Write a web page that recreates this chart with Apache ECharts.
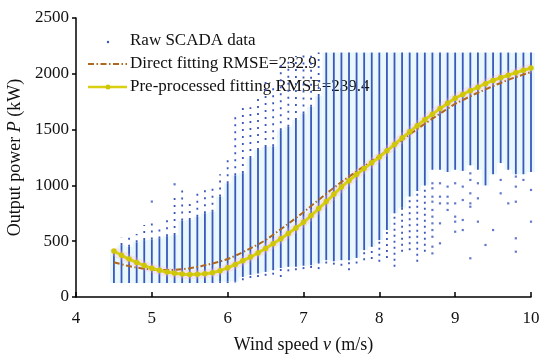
<!DOCTYPE html>
<html>
<head>
<meta charset="utf-8">
<script src="https://cdn.jsdelivr.net/npm/echarts@6/dist/echarts.min.js"></script>
<style>html,body{margin:0;padding:0;background:#fff}#c{width:550px;height:359px}</style>
</head>
<body>
<div id="c"></div>
<script>
// ---- data ----
const windSpeed = [4.5,4.6,4.7,4.8,4.9,5.0,5.1,5.2,5.3,5.4,5.5,5.6,5.7,5.8,5.9,6.0,6.1,6.2,6.3,6.4,6.5,6.6,6.7,6.8,6.9,7.0,7.1,7.2,7.3,7.4,7.5,7.6,7.7,7.8,7.9,8.0,8.1,8.2,8.3,8.4,8.5,8.6,8.7,8.8,8.9,9.0,9.1,9.2,9.3,9.4,9.5,9.6,9.7,9.8,9.9,10.0];
// lowest sparse point of each SCADA column (kW)
const sparseLow = [125,125,125,125,125,125,125,125,125,125,125,125,125,125,125,125,130,150,170,180,190,200,180,230,240,250,260,250,300,290,280,240,300,330,340,315,350,270,405,420,315,405,1140,1140,1120,1140,1130,1180,1140,1000,1100,1200,1140,1100,1100,1120];
// dense part of each column (kW)
const denseLow = [125,125,125,125,125,125,125,125,125,125,125,125,125,125,137,137,140,180,198,210,225,240,260,270,270,280,285,300,330,320,330,330,350,420,450,510,600,750,800,900,950,1000,1140,1140,1120,1140,1130,1180,1140,1000,1100,1200,1140,1100,1100,1120];
const denseHigh = [430,465,450,490,510,515,525,545,555,685,690,720,750,765,900,1020,1090,1110,1245,1317,1345,1350,1495,1525,1585,1645,1705,1800,2190,2190,2190,2190,2190,2190,2190,2190,2190,2190,2190,2190,2190,2190,2190,2190,2190,2190,2190,2190,2190,2190,2190,2190,2190,2190,2190,2190];
// highest sparse point of each column (kW)
const sparseHigh = [430,530,570,565,645,670,635,690,900,960,840,930,1000,1000,1100,1250,1650,1700,1700,1790,1960,1900,2105,2120,2160,2190,2180,2190,2190,2190,2190,2190,2190,2190,2190,2190,2190,2190,2190,2190,2190,2190,2190,2190,2190,2190,2190,2190,2190,2190,2190,2190,2190,2190,2190,2190];
// isolated SCADA points [wind speed, power]
const outliers = [[5.0,855],[5.3,1010],
 [8.7,1019],[8.7,974],[8.7,899],[8.7,854],[8.7,780],[8.7,720],[8.7,660],[8.7,600],[8.7,540],[8.7,451],[8.7,391],
 [8.8,1019],[8.8,899],[8.8,839],[8.8,660],[8.8,481],
 [8.9,989],[8.9,899],[8.9,839],[8.9,780],
 [9.0,1019],[9.0,839],[9.0,720],[9.0,675],[9.0,585],
 [9.1,989],[9.1,869],[9.1,690],[9.1,600],
 [9.2,1108],[9.2,1049],[9.2,929],[9.2,839],[9.2,809],[9.2,347],
 [9.3,1019],[9.3,884],[9.3,675],
 [9.4,466],[9.5,600],[9.6,1049],[9.6,929],[9.7,839],
 [9.8,1079],[9.8,989],[9.8,854],[9.8,526],[9.8,406],
 [9.9,1049],[10.0,959],[10.0,675]];
// fitted curves (kW) at windSpeed
const directFit = [311,293,277,264,254,247,243,241,243,249,258,270,285,300,319,340,370,402,436,472,510,558,607,657,708,760,815,870,925,978,1030,1078,1125,1172,1218,1262,1312,1360,1408,1457,1505,1552,1598,1643,1687,1730,1765,1798,1830,1860,1890,1918,1945,1970,1993,2015];
const preFit = [412,374,340,310,282,258,239,224,213,205,202,203,208,218,236,262,292,324,358,395,435,478,523,570,619,670,730,792,855,920,985,1042,1097,1151,1203,1254,1310,1367,1424,1480,1535,1588,1638,1688,1735,1780,1815,1849,1880,1911,1940,1964,1987,2010,2031,2052];
const xTicks = {min:4, max:10, interval:1};
const yTicks = {min:0, max:2500, interval:500};
const legendNames = ['Raw SCADA data','Direct fitting RMSE=232.9','Pre-processed fitting RMSE=239.4'];

// ---- chart ----
const BLUE = '#3a57bb', BROWN = '#b0681f', YELLOW = '#d8d010';
const FONT = 'Liberation Serif';
const cols = windSpeed.map((w,i)=>[w, sparseLow[i], denseLow[i], denseHigh[i], sparseHigh[i]]);
const pair = arr => windSpeed.map((w,i)=>[w, arr[i]]);

const chart = echarts.init(document.getElementById('c'), null, {renderer:'canvas'});
chart.setOption({
  animation:false,
  grid:{left:76, right:19, top:18, bottom:62, outerBoundsMode:'none'},
  xAxis:{type:'value', min:xTicks.min, max:xTicks.max, interval:xTicks.interval,
    axisLine:{lineStyle:{color:'#000', width:1.5}},
    axisTick:{inside:true, length:5, lineStyle:{color:'#000', width:1.5}},
    splitLine:{show:false},
    axisLabel:{color:'#111', fontFamily:FONT, fontSize:17, margin:13},
    name:'{n|Wind speed }{i|v}{n| (m/s)}', nameLocation:'middle', nameGap:39,
    nameTextStyle:{rich:{n:{fontFamily:FONT, fontSize:18, color:'#111'}, i:{fontFamily:FONT, fontSize:18, fontStyle:'italic', color:'#111'}}}
  },
  yAxis:{type:'value', min:yTicks.min, max:yTicks.max, interval:yTicks.interval,
    axisLine:{show:true, lineStyle:{color:'#000', width:1.5}},
    axisTick:{show:true, inside:false, length:4, lineStyle:{color:'#000', width:1.5}},
    splitLine:{show:false},
    axisLabel:{color:'#111', fontFamily:FONT, fontSize:17, margin:7, formatter:v=>String(v)},
    name:'{n|Output power }{i|P}{n| (kW)}', nameLocation:'middle', nameGap:48,
    nameTextStyle:{rich:{n:{fontFamily:FONT, fontSize:18, color:'#111'}, i:{fontFamily:FONT, fontSize:18, fontStyle:'italic', color:'#111'}}}
  },
  series:[
    {type:'custom', name:'tint', z:1, silent:true, data:cols,
      encode:{x:0, y:[1,2,3,4]},
      renderItem:function(params, api){
        const x = api.coord([api.value(0),0])[0];
        const yT = api.coord([api.value(0), api.value(3)])[1];
        const yB = api.coord([api.value(0), api.value(2)])[1];
        return {type:'rect', shape:{x:x-3.8, y:yT, width:7.6, height:yB-yT}, style:{fill:'#e8f7fc'}};
      }},
    {type:'custom', name:legendNames[0], z:3, silent:true, data:cols,
      encode:{x:0, y:[1,2,3,4]},
      renderItem:function(params, api){
        const w = api.value(0);
        const x = api.coord([w,0])[0];
        const Y = v => api.coord([w,v])[1];
        const sLo=api.value(1), dLo=api.value(2), dHi=api.value(3), sHi=api.value(4);
        const ch = [];
        if (sLo < dLo) ch.push({type:'line', shape:{x1:x,y1:Y(sLo),x2:x,y2:Y(dLo)}, style:{stroke:BLUE, lineWidth:1.8, lineDash:[2,4]}});
        ch.push({type:'line', shape:{x1:x,y1:Y(dLo),x2:x,y2:Y(dHi)}, style:{stroke:BLUE, lineWidth:1.8}});
        if (sHi > dHi) ch.push({type:'line', shape:{x1:x,y1:Y(dHi),x2:x,y2:Y(sHi)}, style:{stroke:BLUE, lineWidth:1.8, lineDash:[2,5]}});
        return {type:'group', children:ch};
      }},
    {type:'scatter', name:'outliers', z:3, silent:true, data:outliers, symbol:'rect', symbolSize:2.2, itemStyle:{color:BLUE}},
    {type:'line', name:'halo', z:4, silent:true, data:pair(preFit), smooth:true, symbol:'none', lineStyle:{width:9, color:'rgba(255,175,205,0.28)'}},
    {type:'line', name:legendNames[1], z:5, data:pair(directFit), smooth:true, symbol:'none',
      lineStyle:{width:2, color:BROWN, type:[6,2.5,1.5,2.5]}},
    {type:'line', name:legendNames[2], z:6, data:pair(preFit), smooth:true, symbol:'circle', symbolSize:5.5, showAllSymbol:true,
      lineStyle:{width:3, color:YELLOW}, itemStyle:{color:'#cfc50a'}}
  ],
  graphic:[
    {type:'circle', z:2, shape:{cx:108, cy:42, r:1.2}, style:{fill:BLUE}},
    {type:'text', z:2, x:130, y:41, style:{text:legendNames[0], fontFamily:FONT, fontSize:17, fill:'#111', verticalAlign:'middle'}},
    {type:'line', z:2, shape:{x1:88,y1:64,x2:127,y2:64}, style:{stroke:BROWN, lineWidth:2, lineDash:[6,2.5,1.5,2.5]}},
    {type:'text', z:2, x:130, y:64, style:{text:legendNames[1], fontFamily:FONT, fontSize:17, fill:'#111', verticalAlign:'middle'}},
    {type:'line', z:2, shape:{x1:88,y1:87,x2:127,y2:87}, style:{stroke:YELLOW, lineWidth:2.5}},
    {type:'circle', z:2, shape:{cx:108, cy:87, r:2.5}, style:{fill:'#cfc50a'}},
    {type:'text', z:2, x:130, y:87, style:{text:legendNames[2], fontFamily:FONT, fontSize:17, fill:'#111', verticalAlign:'middle'}}
  ]
});
</script>
</body>
</html>
